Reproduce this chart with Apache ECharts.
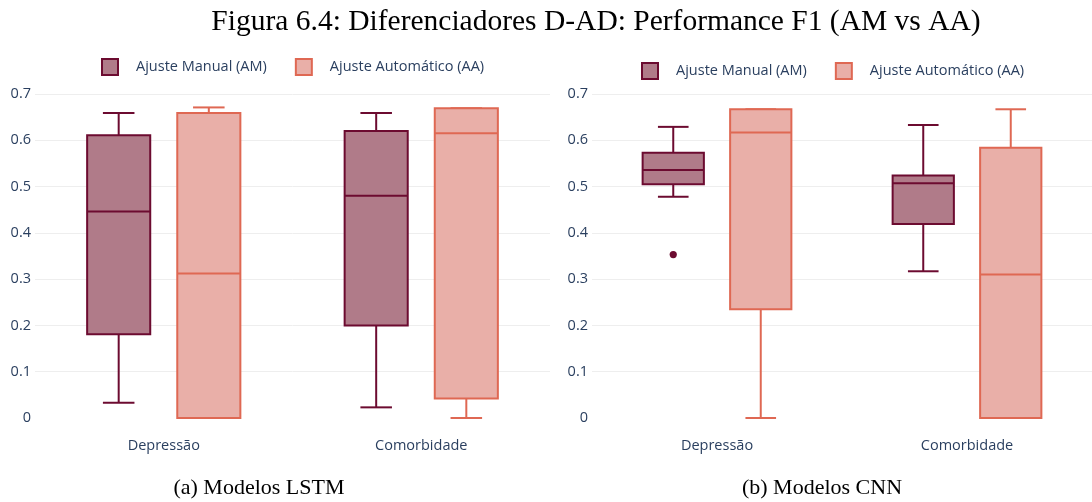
<!DOCTYPE html>
<html>
<head>
<meta charset="utf-8">
<title>Diferenciadores D-AD: Performance F1</title>
<script src="https://cdn.jsdelivr.net/npm/echarts@6/dist/echarts.min.js"></script>
<style>
  html, body { margin: 0; padding: 0; background: #ffffff; }
  #chart { width: 1092px; height: 502px; }
</style>
</head>
<body>
<div id="chart"></div>
<script>
// Categories on the x axis of both panels
const categories = ['Depressão', 'Comorbidade'];

// Five-number summaries per category: [min, Q1, median, Q3, max]
const lstmManual = [
  [0.033, 0.181, 0.446, 0.611, 0.659],
  [0.023, 0.200, 0.480, 0.620, 0.659]
];
const lstmAuto = [
  [0.000, 0.000, 0.312, 0.659, 0.671],
  [0.000, 0.042, 0.615, 0.669, 0.669]
];
const cnnManual = [
  [0.478, 0.505, 0.536, 0.573, 0.629],
  [0.317, 0.419, 0.507, 0.524, 0.633]
];
const cnnAuto = [
  [0.000, 0.235, 0.617, 0.667, 0.667],
  [0.000, 0.000, 0.310, 0.584, 0.667]
];
// Outliers: [category index, value]
const cnnManualOutliers = [[0, 0.353]];

// Y axis ticks
const yMin = 0, yMax = 0.7, yStep = 0.1;

const NAME_AM = 'Ajuste Manual (AM)';
const NAME_AA = 'Ajuste Automático (AA)';

const AM_LINE = '#6c0b30', AM_FILL = '#b07b89';
const AA_LINE = '#df6853', AA_FILL = '#e9afa8';

const BOX_SHIFT = 0.175;   // offset of each box from the category centre (fraction of band)
const BOX_WIDTH = 0.245;   // box width (fraction of band)
const CAP_RATIO = 0.5;     // whisker cap width relative to the box

const SANS = "'Open Sans', 'Liberation Sans', sans-serif";
const SERIF = "'Liberation Serif', 'DejaVu Serif', serif";
const TICK_COLOR = '#2a3f5f';

function withIndex(rows) {
  return rows.map((r, i) => [i].concat(r));
}

function boxRenderer(shift, lineColor, fillColor) {
  return function (params, api) {
    const cat = api.value(0);
    const band = api.size([1, 0])[0];
    const cx = api.coord([cat, 0])[0] + shift * band;
    const half = BOX_WIDTH * band / 2;
    const cap = half * CAP_RATIO;
    const y = (i) => api.coord([cat, api.value(i)])[1];
    const yLo = y(1), yQ1 = y(2), yMed = y(3), yQ3 = y(4), yHi = y(5);
    const ls = { stroke: lineColor, lineWidth: 2 };
    return {
      type: 'group',
      children: [
        { type: 'line', shape: { x1: cx, y1: yQ3, x2: cx, y2: yHi }, style: ls },
        { type: 'line', shape: { x1: cx, y1: yQ1, x2: cx, y2: yLo }, style: ls },
        { type: 'line', shape: { x1: cx - cap, y1: yHi, x2: cx + cap, y2: yHi }, style: ls },
        { type: 'line', shape: { x1: cx - cap, y1: yLo, x2: cx + cap, y2: yLo }, style: ls },
        { type: 'rect', shape: { x: cx - half, y: yQ3, width: 2 * half, height: yQ1 - yQ3 },
          style: { fill: fillColor, stroke: lineColor, lineWidth: 2 } },
        { type: 'line', shape: { x1: cx - half, y1: yMed, x2: cx + half, y2: yMed }, style: ls }
      ]
    };
  };
}

function pointRenderer(shift, color) {
  return function (params, api) {
    const cat = api.value(0);
    const band = api.size([1, 0])[0];
    const p = api.coord([cat, api.value(1)]);
    return { type: 'circle', shape: { cx: p[0] + shift * band, cy: p[1], r: 3.6 }, style: { fill: color } };
  };
}

function boxSeries(name, rows, grid, shift, lineColor, fillColor) {
  return {
    type: 'custom', name, xAxisIndex: grid, yAxisIndex: grid,
    itemStyle: { color: fillColor, borderColor: lineColor },
    renderItem: boxRenderer(shift, lineColor, fillColor),
    encode: { x: 0, y: [1, 2, 3, 4, 5] },
    data: withIndex(rows), clip: false, silent: true
  };
}

const grids = [
  { left: 35, top: 94, width: 515, height: 324 },
  { left: 592, top: 94, width: 505, height: 324 }
];

const xAxes = grids.map((g, i) => ({
  type: 'category', gridIndex: i, data: categories,
  axisLine: { show: false }, axisTick: { show: false }, splitLine: { show: false },
  axisLabel: { margin: 20, color: TICK_COLOR, fontSize: 14.5, fontFamily: SANS }
}));

const yAxes = grids.map((g, i) => ({
  type: 'value', gridIndex: i, min: yMin, max: yMax, interval: yStep,
  axisLine: { show: false }, axisTick: { show: false },
  axisLabel: { margin: 4, color: TICK_COLOR, fontSize: 14.5, fontFamily: SANS },
  splitLine: { show: true, showMinLine: false, lineStyle: { color: '#eeeeee', width: 1 } }
}));

function legendFor(left, top) {
  return {
    left, top, padding: 0, orient: 'horizontal', itemWidth: 16, itemHeight: 16, itemGap: 28,
    selectedMode: false, icon: 'rect',
    textStyle: { color: TICK_COLOR, fontSize: 14.5, fontFamily: SANS, padding: [0, 0, 0, 13] },
    data: [
      { name: NAME_AM, itemStyle: { color: AM_FILL, borderColor: AM_LINE, borderWidth: 2 } },
      { name: NAME_AA, itemStyle: { color: AA_FILL, borderColor: AA_LINE, borderWidth: 2 } }
    ]
  };
}

const option = {
  backgroundColor: '#ffffff',
  animation: false,
  title: [
    { text: 'Figura 6.4: Diferenciadores D-AD: Performance F1 (AM vs AA)', left: 596, top: 7, padding: 0, textAlign: 'center',
      textStyle: { fontFamily: SERIF, fontSize: 29.5, fontWeight: 'normal', color: '#000000' } },
    { text: '(a) Modelos LSTM', left: 259, top: 477, padding: 0, textAlign: 'center',
      textStyle: { fontFamily: SERIF, fontSize: 22, fontWeight: 'normal', color: '#000000' } },
    { text: '(b) Modelos CNN', left: 822, top: 477, padding: 0, textAlign: 'center',
      textStyle: { fontFamily: SERIF, fontSize: 22, fontWeight: 'normal', color: '#000000' } }
  ],
  legend: [legendFor(101, 58), legendFor(641, 62)],
  grid: grids,
  xAxis: xAxes,
  yAxis: yAxes,
  series: [
    boxSeries(NAME_AM, lstmManual, 0, -BOX_SHIFT, AM_LINE, AM_FILL),
    boxSeries(NAME_AA, lstmAuto, 0, BOX_SHIFT, AA_LINE, AA_FILL),
    boxSeries(NAME_AM, cnnManual, 1, -BOX_SHIFT, AM_LINE, AM_FILL),
    boxSeries(NAME_AA, cnnAuto, 1, BOX_SHIFT, AA_LINE, AA_FILL),
    {
      type: 'custom', name: NAME_AM, xAxisIndex: 1, yAxisIndex: 1,
      itemStyle: { color: AM_FILL, borderColor: AM_LINE },
      renderItem: pointRenderer(-BOX_SHIFT, AM_LINE),
      encode: { x: 0, y: 1 }, data: cnnManualOutliers, clip: false, silent: true
    }
  ]
};

const chart = echarts.init(document.getElementById('chart'), null, { renderer: 'canvas' });
chart.setOption(option);
</script>
</body>
</html>
